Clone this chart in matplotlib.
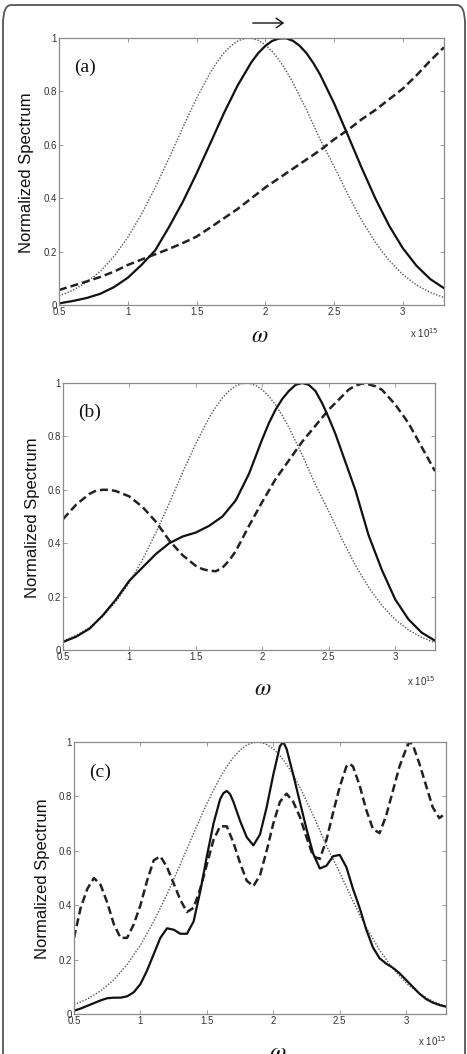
import numpy as np
import matplotlib
matplotlib.use('Agg')
import matplotlib.pyplot as plt
from matplotlib.patches import FancyBboxPatch, FancyArrowPatch

# omega values in units of 1e15

# input spectrum (dotted, same in all panels)
inc_w = [0.5, 0.6, 0.7, 0.8, 0.9, 1.0, 1.1, 1.2, 1.3, 1.4, 1.5, 1.6, 1.65, 1.7, 1.75, 1.8,
         1.85, 1.9, 1.95, 2.0, 2.05, 2.1, 2.15, 2.2, 2.3, 2.4, 2.5, 2.6, 2.7, 2.8, 2.9,
         3.0, 3.1, 3.2, 3.3]
incident = [0.034, 0.055, 0.085, 0.126, 0.182, 0.253, 0.340, 0.440, 0.550, 0.664, 0.774,
            0.870, 0.910, 0.944, 0.970, 0.989, 0.998, 0.999, 0.991, 0.975, 0.950, 0.918,
            0.879, 0.834, 0.731, 0.619, 0.520, 0.415, 0.318, 0.235, 0.167, 0.114, 0.075,
            0.047, 0.028]

# panel (a)
a_solid_w = [0.5, 0.6, 0.7, 0.8, 0.9, 1.0, 1.1, 1.2, 1.3, 1.4, 1.5, 1.6, 1.7, 1.8, 1.9,
             1.95, 2.0, 2.05, 2.1, 2.15, 2.2, 2.25, 2.3, 2.35, 2.4, 2.5, 2.6, 2.7, 2.8,
             2.9, 3.0, 3.1, 3.2, 3.3]
a_solid = [0.006, 0.015, 0.026, 0.042, 0.067, 0.102, 0.150, 0.205, 0.292, 0.386, 0.492,
           0.605, 0.719, 0.823, 0.910, 0.944, 0.970, 0.989, 0.998, 0.999, 0.990, 0.971,
           0.943, 0.906, 0.862, 0.756, 0.637, 0.515, 0.400, 0.298, 0.213, 0.147, 0.097,
           0.063]
a_dashed_w = [0.5, 0.6, 0.7, 0.8, 0.9, 1.0, 1.1, 1.2, 1.3, 1.4, 1.5, 1.6, 1.7, 1.8, 1.9,
              2.0, 2.1, 2.2, 2.3, 2.4, 2.5, 2.6, 2.7, 2.8, 2.9, 3.0, 3.1, 3.2, 3.3]
a_dashed = [0.056, 0.072, 0.088, 0.105, 0.125, 0.150, 0.170, 0.190, 0.210, 0.232, 0.256,
            0.290, 0.325, 0.360, 0.400, 0.440, 0.475, 0.510, 0.545, 0.580, 0.620, 0.655,
            0.695, 0.730, 0.770, 0.810, 0.860, 0.915, 0.965]

# panel (b)
b_solid_w = [0.5, 0.6, 0.7, 0.8, 0.9, 1.0, 1.1, 1.2, 1.3, 1.4, 1.5, 1.6, 1.7, 1.8, 1.9,
             2.0, 2.05, 2.1, 2.15, 2.2, 2.25, 2.3, 2.35, 2.4, 2.45, 2.5, 2.55, 2.6, 2.65,
             2.7, 2.8, 2.9, 3.0, 3.1, 3.2, 3.3]
b_solid = [0.030, 0.050, 0.080, 0.130, 0.190, 0.260, 0.310, 0.360, 0.400, 0.425, 0.440,
           0.465, 0.500, 0.560, 0.660, 0.790, 0.850, 0.900, 0.940, 0.970, 0.993, 1.000,
           0.993, 0.970, 0.925, 0.870, 0.810, 0.740, 0.670, 0.600, 0.430, 0.300, 0.190,
           0.115, 0.065, 0.035]
b_dashed_w = [0.5, 0.6, 0.7, 0.75, 0.8, 0.85, 0.9, 1.0, 1.1, 1.2, 1.3, 1.4, 1.5, 1.55, 1.6,
              1.65, 1.7, 1.75, 1.8, 1.9, 2.0, 2.1, 2.2, 2.3, 2.4, 2.5, 2.6, 2.65, 2.7,
              2.75, 2.8, 2.85, 2.9, 3.0, 3.1, 3.2, 3.3]
b_dashed = [0.490, 0.545, 0.585, 0.597, 0.600, 0.600, 0.595, 0.575, 0.535, 0.480, 0.410,
            0.355, 0.315, 0.303, 0.297, 0.295, 0.308, 0.335, 0.370, 0.465, 0.555, 0.640,
            0.710, 0.780, 0.840, 0.900, 0.950, 0.975, 0.990, 0.998, 0.995, 0.988, 0.975,
            0.920, 0.850, 0.760, 0.670]

# panel (c)
c_solid_w = [0.50, 0.55, 0.60, 0.65, 0.70, 0.75, 0.80, 0.85, 0.90, 0.95, 1.00, 1.05, 1.10,
             1.15, 1.20, 1.25, 1.30, 1.35, 1.40, 1.45, 1.50, 1.55, 1.60, 1.625, 1.65,
             1.675, 1.70, 1.75, 1.80, 1.85, 1.90, 1.95, 2.00, 2.05, 2.075, 2.10, 2.15,
             2.20, 2.25, 2.30, 2.35, 2.40, 2.45, 2.50, 2.55, 2.60, 2.65, 2.70, 2.75, 2.80,
             2.85, 2.90, 2.95, 3.00, 3.05, 3.10, 3.15, 3.20, 3.25, 3.30]
c_solid = [0.012, 0.020, 0.030, 0.040, 0.050, 0.058, 0.060, 0.060, 0.065, 0.080, 0.110,
           0.160, 0.220, 0.280, 0.315, 0.310, 0.295, 0.295, 0.340, 0.450, 0.580, 0.700,
           0.790, 0.812, 0.820, 0.808, 0.780, 0.710, 0.650, 0.620, 0.660, 0.760, 0.880,
           0.985, 1.000, 0.975, 0.880, 0.780, 0.680, 0.590, 0.535, 0.545, 0.580, 0.585,
           0.540, 0.460, 0.390, 0.310, 0.245, 0.205, 0.185, 0.170, 0.150, 0.125, 0.100,
           0.075, 0.055, 0.042, 0.033, 0.027]
c_dashed_w = [0.50, 0.55, 0.60, 0.65, 0.70, 0.75, 0.80, 0.85, 0.90, 0.95, 1.00, 1.05, 1.10,
              1.15, 1.20, 1.25, 1.30, 1.35, 1.40, 1.45, 1.50, 1.55, 1.60, 1.65, 1.70, 1.75,
              1.80, 1.85, 1.90, 1.95, 2.00, 2.05, 2.10, 2.15, 2.20, 2.25, 2.30, 2.35, 2.40,
              2.45, 2.50, 2.55, 2.575, 2.60, 2.65, 2.70, 2.75, 2.80, 2.85, 2.90, 2.95, 3.00,
              3.025, 3.05, 3.10, 3.15, 3.20, 3.25, 3.30]
c_dashed = [0.280, 0.390, 0.460, 0.500, 0.475, 0.410, 0.330, 0.280, 0.280, 0.330, 0.400,
            0.490, 0.565, 0.580, 0.540, 0.480, 0.420, 0.375, 0.390, 0.460, 0.550, 0.640,
            0.690, 0.690, 0.630, 0.555, 0.490, 0.470, 0.510, 0.600, 0.700, 0.780, 0.810,
            0.780, 0.725, 0.650, 0.580, 0.570, 0.640, 0.740, 0.835, 0.910, 0.920, 0.910,
            0.840, 0.750, 0.680, 0.665, 0.730, 0.820, 0.910, 0.975, 1.000, 0.990, 0.920,
            0.840, 0.760, 0.720, 0.740]

panels = [
    ('(a)', a_solid_w, a_solid, a_dashed_w, a_dashed),
    ('(b)', b_solid_w, b_solid, b_dashed_w, b_dashed),
    ('(c)', c_solid_w, c_solid, c_dashed_w, c_dashed),
]

W, H = 467, 1054
fig = plt.figure(figsize=(W / 100, H / 100), dpi=100)

# axes boxes in pixels: left, right, top, bottom
boxes = [(59, 444, 38, 305), (63, 435, 383, 650), (74, 446, 742, 1014)]
ylab_pos = [(27, 173), (33, 518), (43, 879)]
omega_pos = [(260, 335), (263, 688), (278, 1052)]
exp_pos = [(424, 333), (421, 681), (432, 1041)]

spine_col = '#8a8a8a'
tick_col = '#333333'

for (name, xs, ys, xd, yd), (l, r, t, b), yl, om, ex in zip(panels, boxes, ylab_pos, omega_pos, exp_pos):
    ax = fig.add_axes([l / W, 1 - b / H, (r - l) / W, (b - t) / H])
    ax.plot(inc_w, incident, color='#555555', lw=1.0, ls=(0, (1, 1.2)))
    ax.plot(xd, yd, color='#222222', lw=1.8, ls=(0, (3.2, 1.6)))
    ax.plot(xs, ys, color='#111111', lw=1.6, solid_joinstyle='round')
    ax.set_xlim(0.5, 3.3)
    ax.set_ylim(0, 1)
    ax.set_xticks([0.5, 1, 1.5, 2, 2.5, 3])
    ax.set_xticklabels(['0.5', '1', '1.5', '2', '2.5', '3'])
    ax.set_yticks([0, 0.2, 0.4, 0.6, 0.8, 1])
    ax.set_yticklabels(['0', '0.2', '0.4', '0.6', '0.8', '1'])
    ax.tick_params(direction='in', length=3, width=0.6, colors=spine_col,
                   labelcolor=tick_col, labelsize=7, top=True, right=True, pad=1.5)
    for sp in ax.spines.values():
        sp.set_color(spine_col)
        sp.set_linewidth(0.9)
    for lab in ax.get_xticklabels() + ax.get_yticklabels():
        lab.set_family('Liberation Sans')
    ax.text(0.04, 0.89, name, transform=ax.transAxes, family='Liberation Serif',
            fontsize=14, ha='left', va='center', color='#111111')
    fig.text(yl[0] / W, 1 - yl[1] / H, 'Normalized Spectrum', rotation=90,
             family='Liberation Sans', fontsize=12, ha='center', va='center', color='#111111')
    fig.text(om[0] / W, 1 - om[1] / H, r'$\omega$', fontsize=17, ha='center', va='center',
             color='#111111', math_fontfamily='stix')
    fig.text(ex[0] / W, 1 - ex[1] / H, r'x 10$^{15}$', family='Liberation Sans',
             fontsize=7, ha='center', va='center', color='#333333')

# arrow above panel (a)
fig.patches.append(FancyArrowPatch(
    (250 / W, 1 - 23 / H), (287 / W, 1 - 23 / H), transform=fig.transFigure,
    arrowstyle='->,head_length=5,head_width=3.5', lw=1.0, color='#111111'))

# outer rounded frame
frame = FancyBboxPatch((3 / W, -0.02), (462 / W), 1 - 5 / H + 0.02,
                       boxstyle='round,pad=0,rounding_size=0.018', transform=fig.transFigure,
                       fill=False, edgecolor='#555555', lw=1.3)
fig.patches.append(frame)

fig.savefig('out.png', dpi=100)
